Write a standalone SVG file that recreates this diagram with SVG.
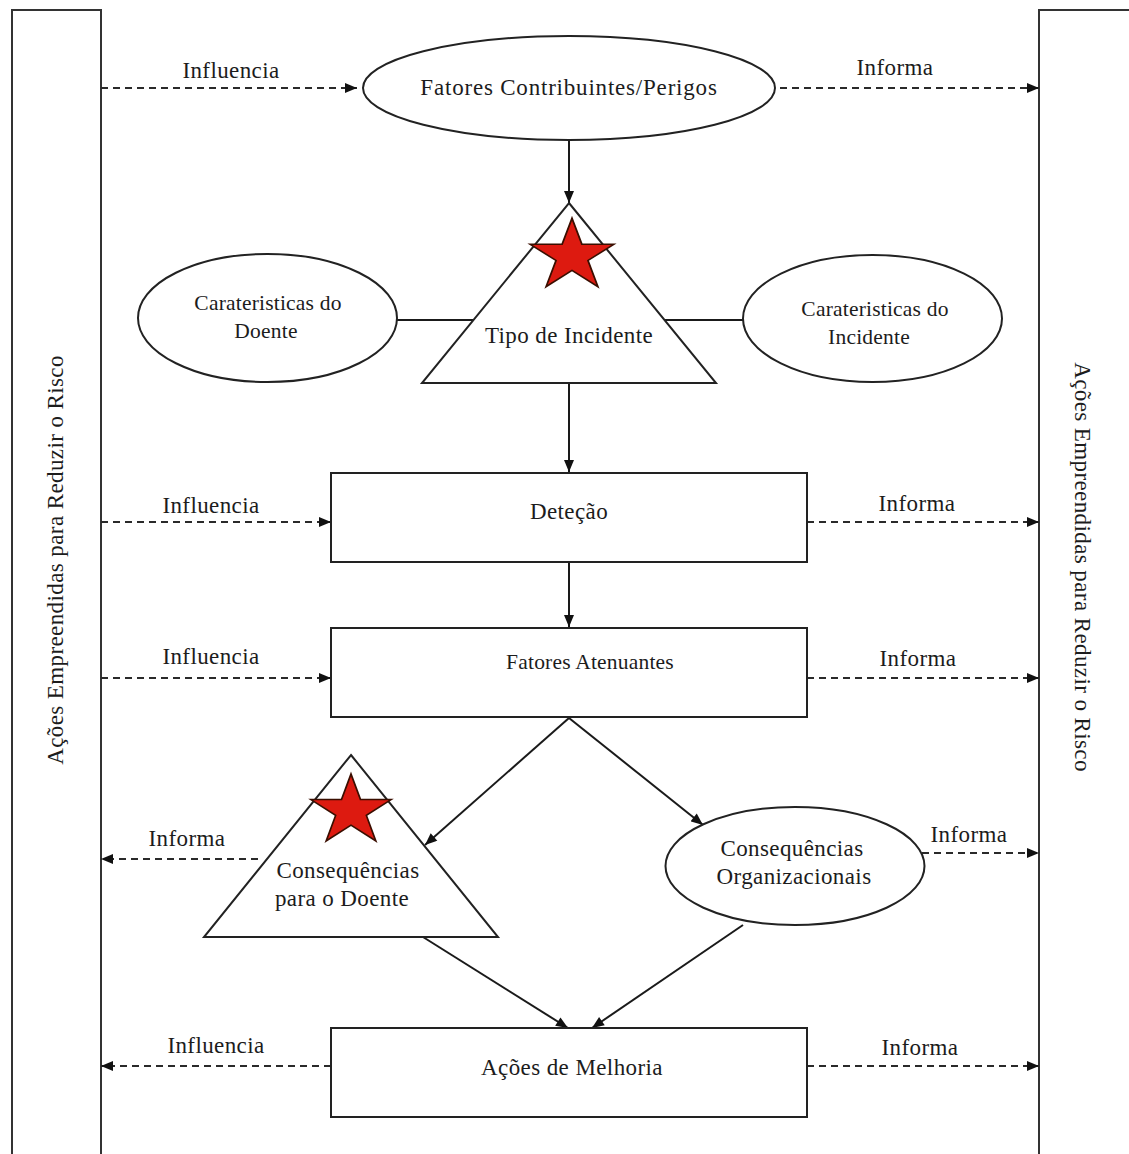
<svg xmlns="http://www.w3.org/2000/svg" width="1129" height="1154" viewBox="0 0 1129 1154">
<style>
  .shape { fill: #ffffff; stroke: #222; stroke-width: 2; }
  .bar { fill: #ffffff; stroke: #333; stroke-width: 2; }
  .star { fill: #dd1a10; stroke: #3a0e00; stroke-width: 1.8; }
  .solid { fill: none; stroke: #1a1a1a; stroke-width: 2; }
  .dash { fill: none; stroke: #2a2a2a; stroke-width: 2; stroke-dasharray: 7 5; }
  text { font-family: "Liberation Serif", "Times New Roman", serif; font-size: 23px; fill: #1c1c1c; text-anchor: middle; letter-spacing: 0.4px; }
  .sm { font-size: 21.5px; letter-spacing: 0.2px; }
  .wide { letter-spacing: 0.8px; }
</style>
<defs>
  <marker id="arr" viewBox="0 0 12 10" refX="12" refY="5" markerWidth="13" markerHeight="10" markerUnits="userSpaceOnUse" orient="auto">
    <path d="M0,0 L12,5 L0,10 z" fill="#111"/>
  </marker>
  <polygon id="starShape" points="0,-44 9.88,-13.6 41.84,-13.6 15.99,5.19 25.87,35.6 0,16.81 -25.87,35.6 -15.99,5.19 -41.84,-13.6 -9.88,-13.6"/>
</defs>
<rect width="1129" height="1154" fill="#ffffff"/>

<g id="left-bar">
  <rect class="bar" x="12" y="10" width="89" height="1170"/>
  <text transform="translate(63,560) rotate(-90)">Ações Empreendidas para Reduzir o Risco</text>
</g>
<g id="right-bar">
  <rect class="bar" x="1039" y="10" width="110" height="1170"/>
  <text transform="translate(1075,567) rotate(90)">Ações Empreendidas para Reduzir o Risco</text>
</g>

<g id="connectors">
  <line class="solid" x1="569" y1="141" x2="569" y2="203" marker-end="url(#arr)"/>
  <line class="solid" x1="397" y1="320" x2="474" y2="320"/>
  <line class="solid" x1="664" y1="320" x2="743" y2="320"/>
  <line class="solid" x1="569" y1="383" x2="569" y2="472" marker-end="url(#arr)"/>
  <line class="solid" x1="569" y1="562" x2="569" y2="627" marker-end="url(#arr)"/>
  <line class="solid" x1="569" y1="718" x2="425" y2="845" marker-end="url(#arr)"/>
  <line class="solid" x1="569" y1="718" x2="703" y2="825" marker-end="url(#arr)"/>
  <line class="solid" x1="423" y1="937" x2="568" y2="1028" marker-end="url(#arr)"/>
  <line class="solid" x1="743" y1="925" x2="592" y2="1028" marker-end="url(#arr)"/>

  <line class="dash" x1="101" y1="88" x2="357" y2="88" marker-end="url(#arr)"/>
  <line class="dash" x1="780" y1="88" x2="1039" y2="88" marker-end="url(#arr)"/>
  <line class="dash" x1="101" y1="522" x2="331" y2="522" marker-end="url(#arr)"/>
  <line class="dash" x1="807" y1="522" x2="1039" y2="522" marker-end="url(#arr)"/>
  <line class="dash" x1="101" y1="678" x2="331" y2="678" marker-end="url(#arr)"/>
  <line class="dash" x1="807" y1="678" x2="1039" y2="678" marker-end="url(#arr)"/>
  <line class="dash" x1="258" y1="859" x2="101" y2="859" marker-end="url(#arr)"/>
  <line class="dash" x1="922" y1="853" x2="1039" y2="853" marker-end="url(#arr)"/>
  <line class="dash" x1="331" y1="1066" x2="101" y2="1066" marker-end="url(#arr)"/>
  <line class="dash" x1="807" y1="1066" x2="1039" y2="1066" marker-end="url(#arr)"/>

  <text x="231" y="78">Influencia</text>
  <text x="895" y="75">Informa</text>
  <text x="211" y="513">Influencia</text>
  <text x="917" y="511">Informa</text>
  <text x="211" y="664">Influencia</text>
  <text x="918" y="666">Informa</text>
  <text x="187" y="846">Informa</text>
  <text x="969" y="842">Informa</text>
  <text x="216" y="1053">Influencia</text>
  <text x="920" y="1055">Informa</text>
</g>

<g id="fatores-contribuintes">
  <ellipse class="shape" cx="569" cy="88" rx="206" ry="52"/>
  <text class="wide" x="569" y="95">Fatores Contribuintes/Perigos</text>
</g>

<g id="tipo-incidente">
  <polygon class="shape" points="569,203 716,383 422,383"/>
  <use href="#starShape" class="star" transform="translate(572,256) scale(1,0.86)"/>
  <text x="569" y="343">Tipo de Incidente</text>
</g>

<g id="carateristicas-doente">
  <ellipse class="shape" cx="267.5" cy="318" rx="129.5" ry="64"/>
  <text class="sm" x="268" y="310">Carateristicas do</text>
  <text class="sm" x="266" y="338">Doente</text>
</g>

<g id="carateristicas-incidente">
  <ellipse class="shape" cx="872.5" cy="318.5" rx="129.5" ry="63.5"/>
  <text class="sm" x="875" y="316">Carateristicas do</text>
  <text class="sm" x="869" y="344">Incidente</text>
</g>

<g id="detecao">
  <rect class="shape" x="331" y="473" width="476" height="89"/>
  <text x="569" y="519">Deteção</text>
</g>

<g id="fatores-atenuantes">
  <rect class="shape" x="331" y="628" width="476" height="89"/>
  <text class="sm" x="590" y="669">Fatores Atenuantes</text>
</g>

<g id="consequencias-doente">
  <polygon class="shape" points="351,755 498,937 204,937"/>
  <use href="#starShape" class="star" transform="translate(351,811) scale(0.96,0.84)"/>
  <text x="348" y="878">Consequências</text>
  <text x="342" y="906">para o Doente</text>
</g>

<g id="consequencias-organizacionais">
  <ellipse class="shape" cx="795" cy="866" rx="129.5" ry="59"/>
  <text x="792" y="856">Consequências</text>
  <text x="794" y="884">Organizacionais</text>
</g>

<g id="acoes-melhoria">
  <rect class="shape" x="331" y="1028" width="476" height="89"/>
  <text x="572" y="1075">Ações de Melhoria</text>
</g>
</svg>
